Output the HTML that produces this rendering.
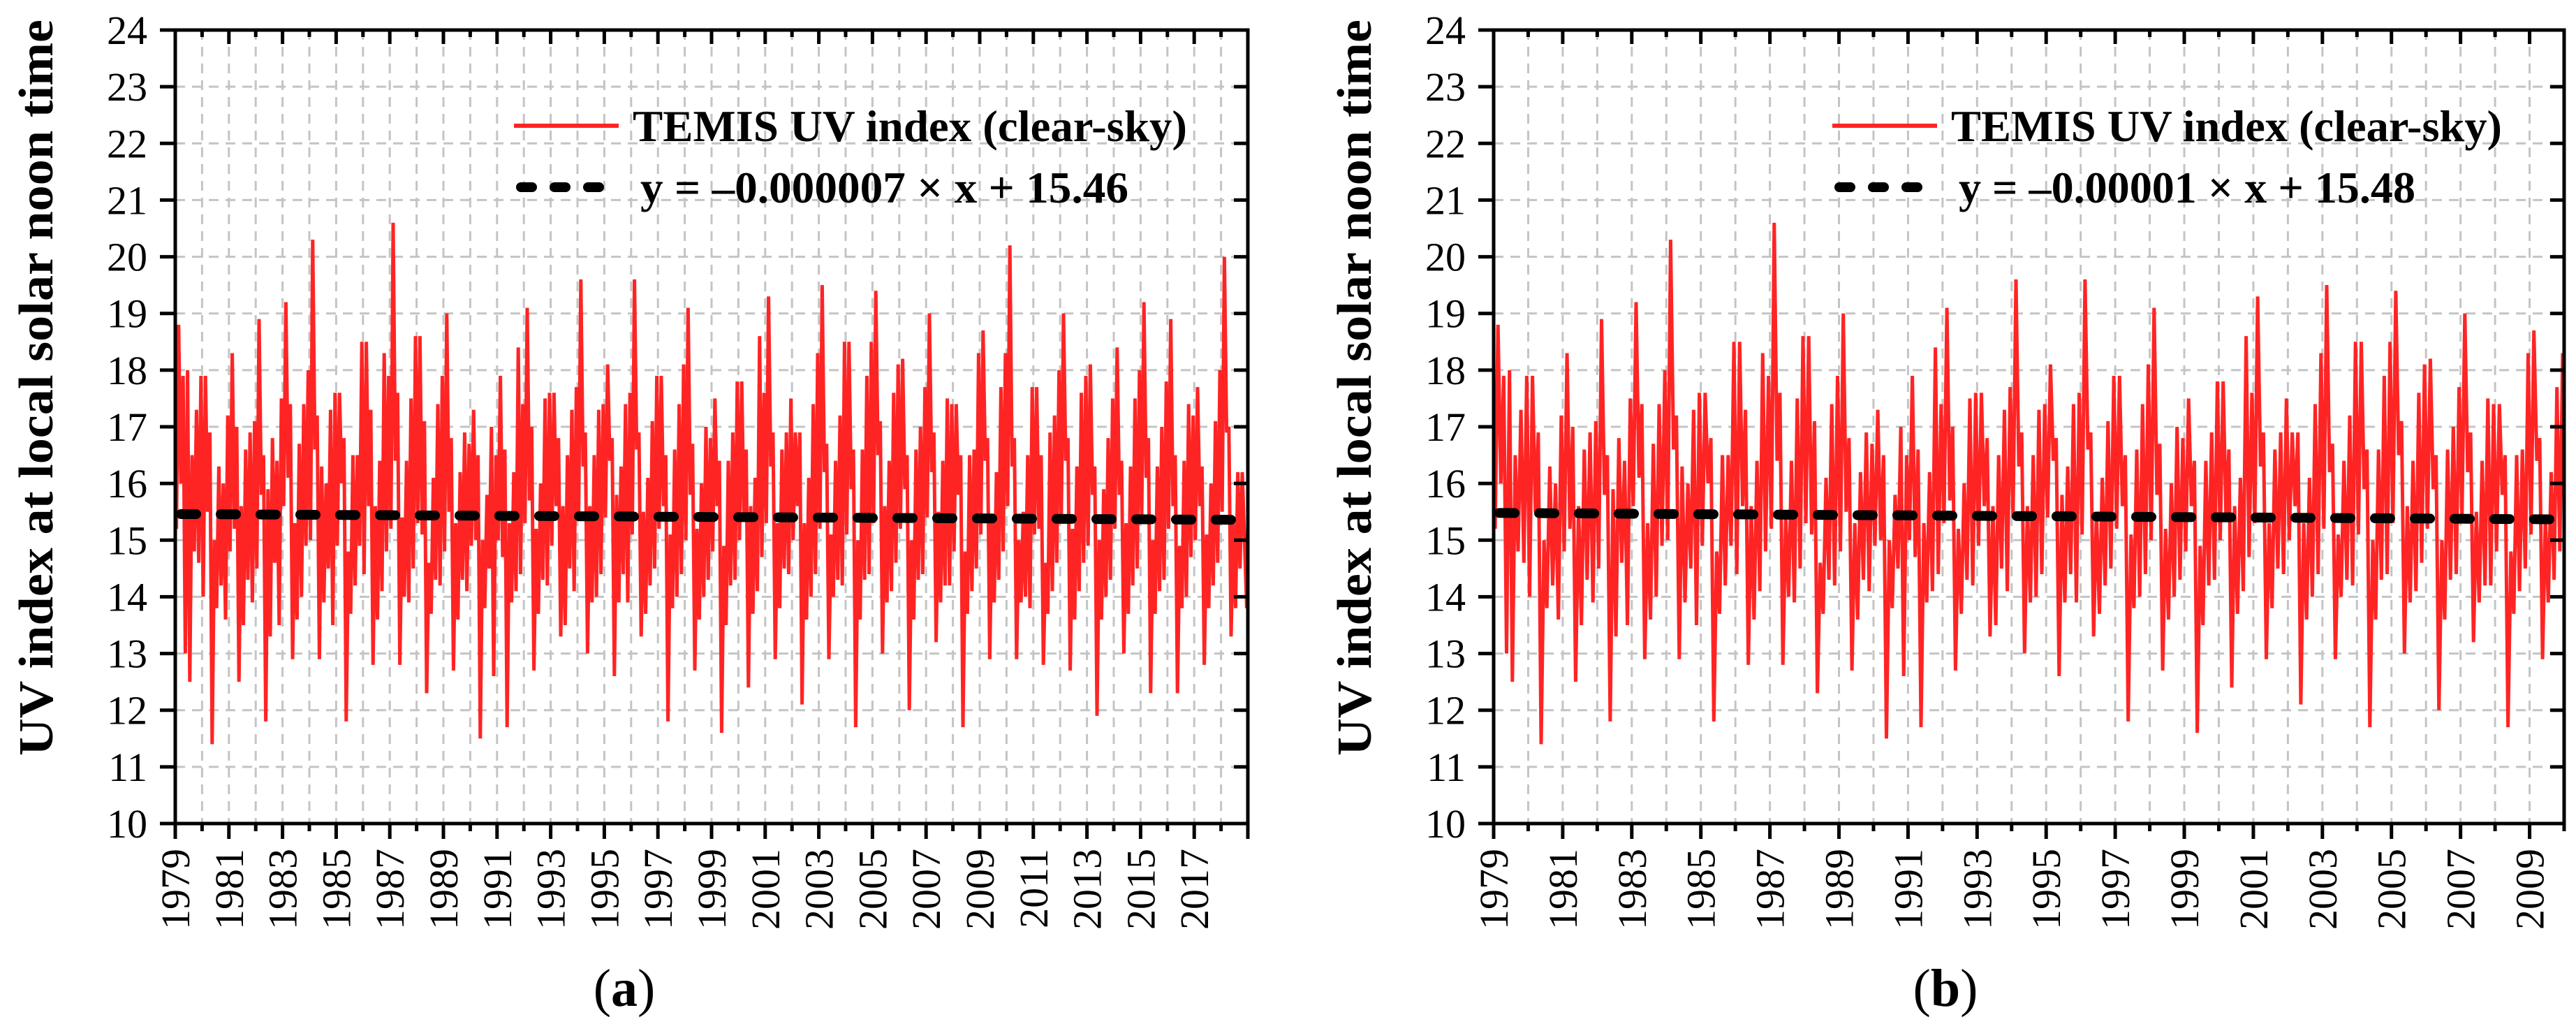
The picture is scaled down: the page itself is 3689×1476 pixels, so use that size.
<!DOCTYPE html>
<html><head><meta charset="utf-8"><style>
html,body{margin:0;padding:0;background:#fff;}
svg{display:block;}
text{font-family:"Liberation Serif",serif;}
</style></head><body>
<svg id="fig" width="3689" height="1476" viewBox="0 0 3689 1476" xmlns="http://www.w3.org/2000/svg"></svg>
<script>
// Monthly UV index values (Jan..Dec) per year, 1979-2018
const uvA = [
15.2,18.8,16.0,17.9,13.0,18.0,12.5,16.5,14.8,17.3,14.6,17.9,
14.0,17.9,15.5,16.9,11.4,15.0,13.8,16.3,14.2,16.0,13.6,17.2,
14.8,18.3,15.2,17.0,12.5,15.6,13.5,16.6,14.3,16.9,13.9,17.1,
14.5,18.9,15.8,16.5,11.8,15.9,13.3,16.8,14.6,16.4,13.5,17.5,
15.6,19.2,16.1,17.4,12.9,15.3,13.6,16.7,14.0,17.4,14.9,18.0,
15.0,20.3,16.6,17.2,12.9,16.3,13.9,16.0,14.5,17.3,13.5,17.6,
14.9,17.6,16.0,16.8,11.8,14.8,13.7,16.5,14.2,16.5,14.9,18.5,
14.4,18.5,15.6,17.3,12.8,15.6,13.6,16.4,14.1,18.3,14.8,17.9,
15.2,20.6,16.4,17.6,12.8,15.4,14.0,16.4,13.9,17.5,14.5,18.6,
15.3,18.6,15.1,17.1,12.3,14.6,13.7,16.1,14.3,17.4,14.2,17.9,
14.8,19.0,15.5,16.8,12.7,15.3,13.6,16.2,14.3,16.9,14.1,16.7,
14.9,17.3,15.0,16.5,11.5,15.0,13.8,15.8,14.5,17.0,12.6,16.5,
15.0,17.9,14.7,16.6,11.7,15.3,13.9,16.2,14.1,18.4,14.4,17.4,
15.3,19.1,15.7,17.0,12.7,15.2,13.7,16.0,14.3,17.5,14.2,17.6,
14.9,17.6,15.6,16.8,13.3,15.6,13.5,16.5,14.5,17.3,14.1,17.7,
15.4,19.6,16.3,16.9,13.0,15.6,13.9,16.5,14.0,17.3,14.4,17.4,
15.4,18.1,16.4,16.8,12.6,15.8,13.9,16.3,14.4,17.4,13.9,17.6,
15.1,19.6,16.6,16.9,13.3,15.5,13.7,16.1,14.2,17.1,14.5,17.9,
15.2,17.9,15.6,16.5,11.8,15.1,13.8,16.6,14.0,17.4,14.4,18.1,
15.0,19.1,15.8,16.7,12.7,15.2,13.6,16.0,14.0,17.0,14.3,16.8,
14.8,17.5,15.6,16.4,11.6,14.9,13.5,16.4,14.2,16.9,14.3,17.8,
15.0,17.8,15.4,16.6,12.4,15.6,13.7,16.1,14.1,18.6,14.7,17.6,
15.3,19.3,16.3,16.9,12.9,15.3,13.8,16.6,14.5,16.9,14.4,17.5,
15.0,16.9,15.6,16.9,12.1,15.3,13.6,16.1,14.0,17.4,14.4,18.3,
15.2,19.5,16.2,16.7,12.9,15.1,14.0,16.4,14.3,17.2,14.2,18.5,
15.1,18.5,15.9,16.6,11.7,15.0,13.6,16.6,14.3,17.9,14.4,18.5,
15.3,19.4,16.5,17.1,13.0,15.6,13.9,16.4,14.1,17.6,14.6,18.1,
15.2,18.2,15.9,16.5,12.0,15.0,13.6,16.6,14.3,17.0,14.4,17.7,
15.4,19.0,16.2,16.9,13.2,15.5,13.9,16.4,14.2,17.5,14.2,17.4,
14.8,17.4,15.8,16.5,11.7,14.8,13.7,16.5,14.1,16.6,14.5,18.3,
15.1,18.7,16.4,16.8,12.9,15.4,13.9,16.2,14.3,17.7,14.8,18.3,
15.6,20.2,16.3,16.8,12.9,15.0,13.9,15.5,14.0,16.5,13.8,17.7,
15.1,17.7,15.2,16.5,12.8,14.6,13.7,16.9,14.1,17.2,14.6,18.0,
15.3,19.0,16.4,16.8,12.7,15.2,13.6,16.3,14.1,17.6,14.6,17.9,
14.9,18.1,15.8,16.3,11.9,15.0,13.6,15.9,14.0,16.8,14.3,17.5,
15.2,18.4,15.8,16.4,13.0,15.3,13.7,16.3,14.2,17.5,14.5,18.0,
15.4,19.2,16.1,16.8,12.3,15.0,13.7,16.3,14.1,17.0,14.3,17.8,
15.2,18.9,15.6,16.5,12.3,14.9,13.8,16.4,14.0,17.4,14.7,17.2,
15.0,17.7,15.6,16.3,12.8,15.1,13.8,16.0,14.2,17.1,14.6,18.0,
15.5,20.0,16.9,17.0,13.3,15.3,13.8,16.2,14.5,16.2,15.0,13.8
];
const startYear = 1979;
const endYearA = 2019;
const endYearB = 2010;
const yTicks = [10,11,12,13,14,15,16,17,18,19,20,21,22,23,24];
const trendSlopeA = -0.000007;
const trendInterceptA = 15.46;
const trendSlopeB = -0.00001;
const trendInterceptB = 15.48;
const legendTitle = "TEMIS UV index (clear-sky)";
const legendEqA = "y = \u20130.000007 \u00d7 x + 15.46";
const legendEqB = "y = \u20130.00001 \u00d7 x + 15.48";

const NS = "http://www.w3.org/2000/svg";
const svg = document.getElementById("fig");
function mk(tag, attrs, parent) {
  const e = document.createElementNS(NS, tag);
  for (const k in attrs) e.setAttribute(k, attrs[k]);
  (parent || svg).appendChild(e);
  return e;
}

function panel(opt) {
  const g = mk("g", {});
  
  
  const L = opt.left, R = opt.right, T = 43, B = 1179;
  const x0 = startYear, x1 = opt.endYear;
  const xs = v => L + (v - x0) / (x1 - x0) * (R - L);
  const ys = v => B - (v - 10) / 14 * (B - T);

  // grid
  const grid = mk("g", {stroke: "#c4c4c4", "stroke-width": 3, "stroke-dasharray": "14 10", fill: "none"}, g);
  
  
  for (let yr = x0 + 1; yr < x1; yr++) mk("line", {x1: xs(yr), x2: xs(yr), y1: T, y2: B}, grid);
  yTicks.forEach(v => { if (v > 10 && v < 24) mk("line", {x1: L, x2: R, y1: ys(v), y2: ys(v)}, grid); });

  // series
  const n = Math.min(uvA.length, (x1 - x0) * 12);
  let d = "";
  for (let i = 0; i < n; i++) {
    const x = xs(x0 + (i + 0.5) / 12), y = ys(uvA[i]);
    d += (i ? "L" : "M") + x.toFixed(1) + " " + y.toFixed(1);
  }
  const ser = mk("path", {d: d, fill: "none", stroke: "#ff2424", "stroke-width": 5, "stroke-linejoin": "miter"}, g);
  
  

  // trend (x in days)
  const days = (x1 - x0) * 365.25;
  const tr = mk("line", {x1: xs(x0) + 8, y1: ys(opt.b), x2: R - 8, y2: ys(opt.b + opt.m * days),
    stroke: "#000", "stroke-width": 14, "stroke-linecap": "round", "stroke-dasharray": "22 35"}, g);
  
  

  // axes frame
  const ax = mk("rect", {x: L, y: T, width: R - L, height: B - T, fill: "none", stroke: "#000", "stroke-width": 5}, g);
  
  
  const tk = mk("g", {stroke: "#000", "stroke-width": 5}, g);
  
  
  for (let yr = x0; yr <= x1; yr++) {
    const maj = (yr - x0) % 2 === 0;
    mk("line", {x1: xs(yr), x2: xs(yr), y1: B, y2: B + (maj ? 22 : 11)}, tk);
    mk("line", {x1: xs(yr), x2: xs(yr), y1: T, y2: T + (maj ? 20 : 10)}, tk);
  }
  yTicks.forEach(v => {
    mk("line", {x1: L - 22, x2: L, y1: ys(v), y2: ys(v)}, tk);
    mk("line", {x1: R - 20, x2: R, y1: ys(v), y2: ys(v)}, tk);
  });

  // y tick labels
  yTicks.forEach(v => {
    const t = mk("text", {x: L - 40, y: ys(v) + 20, "text-anchor": "end", "font-size": 58, fill: "#000"}, g);
    t.textContent = v;
    
    
  });
  // x tick labels
  for (let yr = x0; yr < x1; yr += 2) {
    const cx = xs(yr) + 20, cy = 1215;
    const t = mk("text", {x: cx, y: cy, "text-anchor": "end", "font-size": 58, fill: "#000",
      transform: "rotate(-90 " + cx + " " + cy + ")"}, g);
    t.textContent = yr;
    
    
  }
  // y title
  const tx = opt.titleX, ty = 555;
  const yt = mk("text", {x: tx, y: ty, "text-anchor": "middle", "font-size": 70, "font-weight": "bold",
    textLength: 1054, lengthAdjust: "spacingAndGlyphs", fill: "#000", transform: "rotate(-90 " + tx + " " + ty + ")"}, g);
  yt.textContent = "UV index at local solar noon time";
  
  

  // legend
  const lg = mk("g", {}, g);
  
  
  const l1 = mk("line", {x1: opt.lx, x2: opt.lx + 150, y1: 180, y2: 180, stroke: "#ff2424", "stroke-width": 6}, lg);
  
  
  const t1 = mk("text", {x: opt.lx + 170, y: 202, "font-size": 63, "font-weight": "bold", textLength: opt.t1w, lengthAdjust: "spacingAndGlyphs"}, lg);
  t1.textContent = legendTitle;
  
  
  const l2 = mk("line", {x1: opt.lx + 10, x2: opt.lx + 145, y1: 268, y2: 268, stroke: "#000", "stroke-width": 14,
    "stroke-linecap": "round", "stroke-dasharray": "16 32"}, lg);
  
  
  const t2 = mk("text", {x: opt.lx + 181, y: 290, "font-size": 63, "font-weight": "bold", textLength: opt.t2w, lengthAdjust: "spacingAndGlyphs"}, lg);
  t2.textContent = opt.eq;
  
  

  // panel caption
  const cap = mk("text", {x: opt.capX, y: 1440, "text-anchor": "middle", "font-size": 76}, g);
  
  
  const s1 = mk("tspan", {}, cap); s1.textContent = "(";
  const s2 = mk("tspan", {"font-weight": "bold"}, cap); s2.textContent = opt.letter;
  const s3 = mk("tspan", {}, cap); s3.textContent = ")";
}

panel({name: "panel-a", left: 251, right: 1787, endYear: endYearA, m: trendSlopeA, b: trendInterceptA,
  titleX: 75, lx: 736, t1w: 794, t2w: 699, eq: legendEqA, capX: 894, letter: "a"});
panel({name: "panel-b", left: 2139, right: 3672, endYear: endYearB, m: trendSlopeB, b: trendInterceptB,
  titleX: 1963, lx: 2624, t1w: 789, t2w: 654, eq: legendEqB, capX: 2786, letter: "b"});
</script>
</body></html>
